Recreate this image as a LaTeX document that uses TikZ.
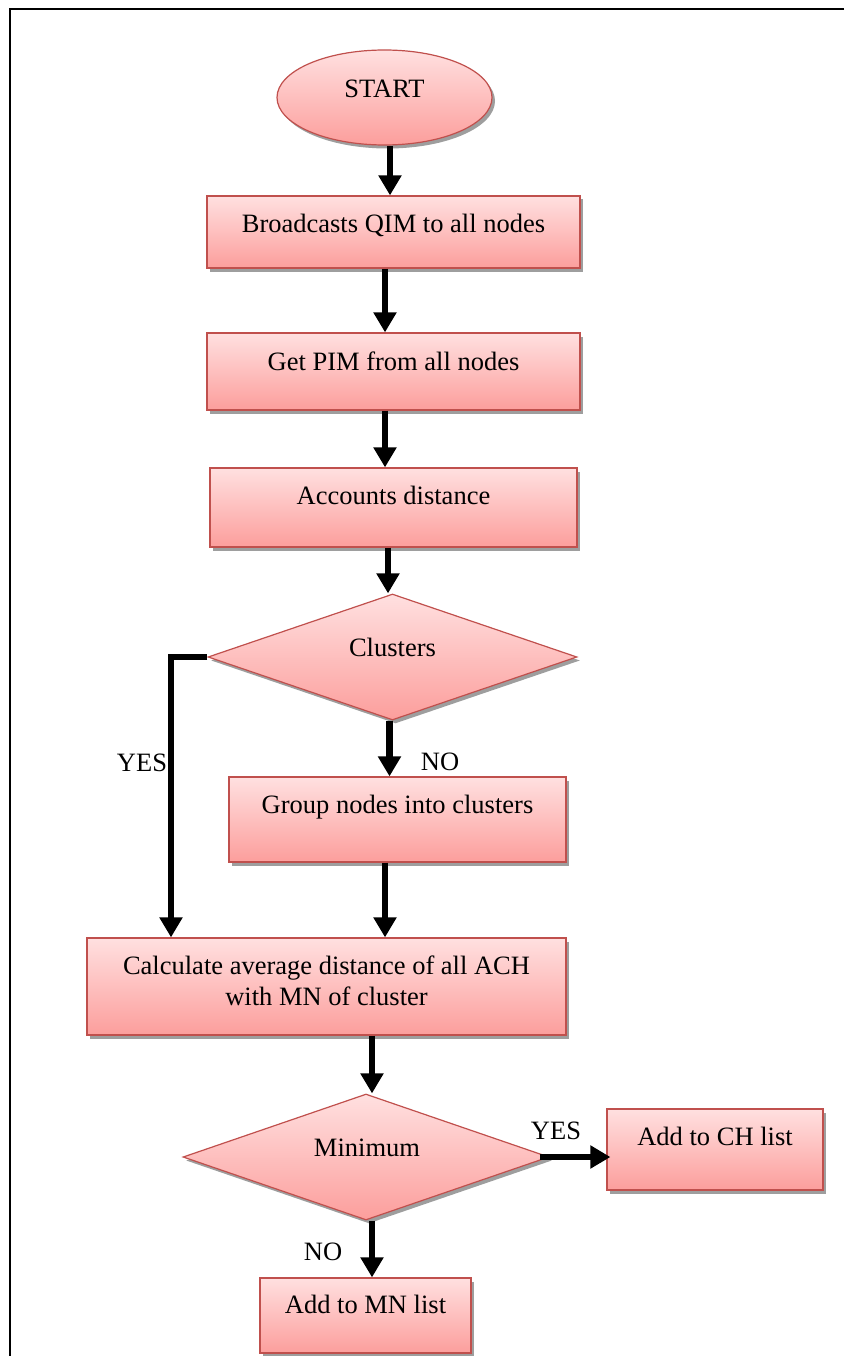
\documentclass[tikz,border=0pt]{standalone}
\usepackage{fontspec}
\setmainfont{Liberation Serif}
\usetikzlibrary{shapes.geometric,arrows.meta,shadows}
\definecolor{pinktop}{RGB}{255,224,224}
\definecolor{pinkbot}{RGB}{252,158,156}
\definecolor{edgered}{RGB}{192,80,77}
\tikzset{
  base/.style={draw=edgered, line width=1.2pt, top color=pinktop, bottom color=pinkbot,
    inner sep=0pt, drop shadow={shadow xshift=3pt, shadow yshift=-3.5pt, fill=black!38, opacity=1}},
  stepbox/.style={base, rectangle},
  decision/.style={base, diamond},
  terminal/.style={base, ellipse},
  txt/.style={anchor=base, inner sep=0pt, font=\fontsize{26.5}{31}\selectfont},
  arr/.style={line width=6.5pt, -{Triangle[length=20pt,width=22pt]}},
}
\begin{document}
\begin{tikzpicture}[x=1pt, y=-1pt]
  \useasboundingbox (0,0) rectangle (844,1356);
  % page frame
  \draw[line width=2.5pt] (844,9) -- (10,9) -- (10,1356);

  % shapes
  \node[terminal, minimum width=215pt, minimum height=95pt] (s) at (384.5,97.5) {};
  \node[stepbox, minimum width=373pt, minimum height=72pt] (b1) at (393.5,232) {};
  \node[stepbox, minimum width=373pt, minimum height=77pt] (b2) at (393.5,371.5) {};
  \node[stepbox, minimum width=367pt, minimum height=79pt] (b3) at (393.5,507.5) {};
  \node[decision, minimum width=369pt, minimum height=126pt] (c1) at (392.5,657) {};
  \node[stepbox, minimum width=337pt, minimum height=85pt] (g) at (397.5,819.5) {};
  \node[stepbox, minimum width=479pt, minimum height=97pt] (k) at (326.5,986.5) {};
  \node[decision, minimum width=366pt, minimum height=126pt] (m) at (366,1157) {};
  \node[stepbox, minimum width=216pt, minimum height=81pt] (ch) at (715,1149.5) {};
  \node[stepbox, minimum width=211pt, minimum height=75pt] (mn) at (365.5,1315.5) {};

  % texts
  \node[txt] (ts) at (384.5,98) {START};
  \node[txt] (t1) at (393.5,233) {Broadcasts QIM to all nodes};
  \node[txt] (t2) at (393.5,370) {Get PIM from all nodes};
  \node[txt] (t3) at (393.5,504) {Accounts distance};
  \node[txt] (tc) at (392.5,656) {Clusters};
  \node[txt] (tg) at (397.5,813) {Group nodes into clusters};
  \node[txt] (tk1) at (326.5,974) {Calculate average distance of all ACH};
  \node[txt] (tk2) at (326.5,1005) {with MN of cluster};
  \node[txt] (tm) at (367,1156) {Minimum};
  \node[txt] (tch) at (715,1145) {Add to CH list};
  \node[txt] (tmn) at (365.5,1313) {Add to MN list};

  % branch labels
  \node[txt] (ly1) at (142,771) {YES};
  \node[txt] (ln1) at (440,770) {NO};
  \node[txt] (ly2) at (556,1139) {YES};
  \node[txt] (ln2) at (323,1260) {NO};

  % connectors
  \draw[arr] ([xshift=5.5pt]s.south) -- ([xshift=5.5pt]s.south |- b1.north);
  \draw[arr] ([xshift=-8.5pt]b1.south) -- ([xshift=-8.5pt]b1.south |- b2.north);
  \draw[arr] ([xshift=-8.5pt]b2.south) -- ([xshift=-8.5pt]b2.south |- b3.north);
  \draw[arr] ([xshift=-5.5pt]b3.south) -- ([xshift=-5.5pt]b3.south |- c1.north);
  \draw[arr] ([xshift=-3pt]c1.south) -- ([xshift=-3pt]c1.south |- g.north);
  \draw[arr] ([xshift=-12.5pt]g.south) -- ([xshift=-12.5pt]g.south |- k.north);
  \draw[arr] (c1.west) -| ([xshift=-155.5pt]k.north);
  \draw[arr] ([xshift=45.5pt]k.south) -- ([xshift=45.5pt]k.south |- m.north);
  \draw[arr] ([xshift=6.5pt]mn.north |- m.south) -- ([xshift=6.5pt]mn.north);
  \draw[arr] ([xshift=-10pt]m.east) -- ([xshift=4pt]m.east -| ch.west);
\end{tikzpicture}
\end{document}
